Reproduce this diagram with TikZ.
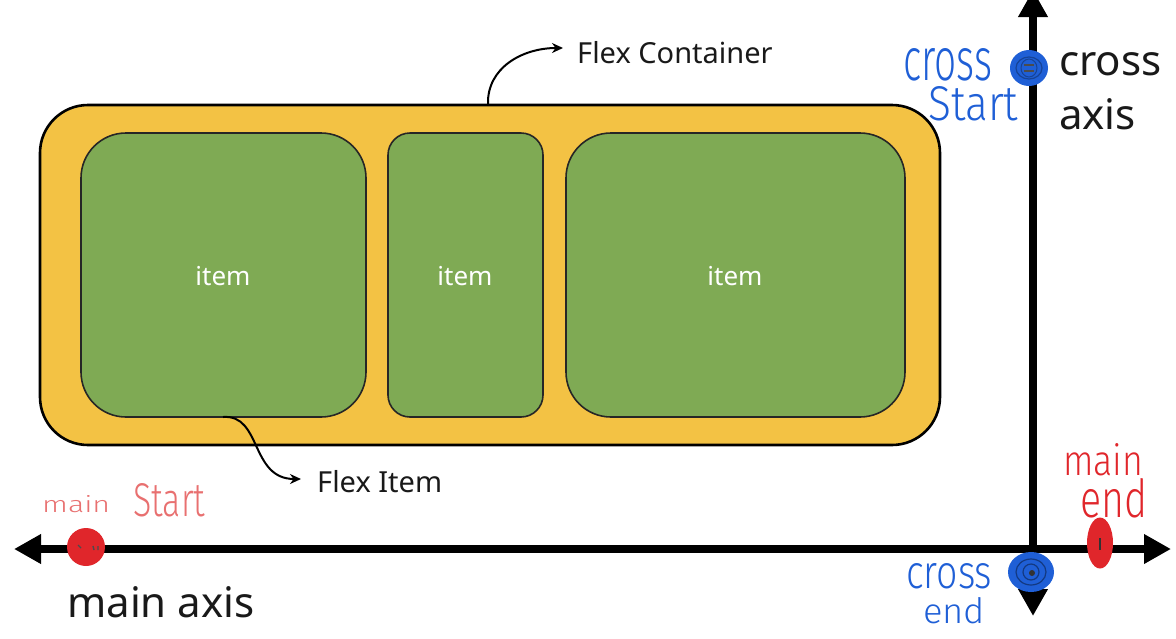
\documentclass[tikz,border=0pt]{standalone}
\usepackage{graphicx}
\usepackage{fontspec}
\setmainfont{Noto Sans}
\newfontfamily\handfont{Fira Sans Light}
\usetikzlibrary{arrows.meta,shapes.geometric}
\definecolor{boxyellow}{HTML}{F3C244}
\definecolor{itemgreen}{HTML}{7FAA54}
\definecolor{penblue}{HTML}{1F5FD6}
\definecolor{penred}{HTML}{E0262B}
\definecolor{penpink}{HTML}{E87070}
% a pen-written word stretched to a given width and height
\newcommand{\penword}[3]{\resizebox{#1}{#2}{\handfont\fontsize{40}{40}\selectfont #3}}
\tikzset{
  container/.style={draw=black, line width=2.6pt, fill=boxyellow, rounded corners=48pt},
  flexitem/.style={draw=black!85, line width=1.6pt, fill=itemgreen, rounded corners=#1},
  itemlabel/.style={text=white, font=\fontsize{26}{30}\selectfont},
  callout/.style={font=\fontsize{29}{32}\selectfont, text=black!90, inner sep=0pt, anchor=base west},
  axislabel/.style={font=\fontsize{42}{52}\selectfont, text=black!90, inner sep=0pt, anchor=base west},
  axisline/.style={line width=8pt, {Triangle[length=27pt,width=28pt]}-{Triangle[length=27pt,width=28pt]}},
  pointer/.style={line width=2pt, -{Stealth[length=11pt,width=10pt]}},
  handnote/.style={inner sep=0pt, anchor=north west},
}
\begin{document}
\begin{tikzpicture}[x=1pt,y=-1pt]
\useasboundingbox (0,0) rectangle (1176,638);

% container and its three items
\path[container] (40,105) rectangle (940,445);
\node[coordinate] (cont) at (488,104) {};
\path[flexitem=45pt] (81,133) rectangle (366,417);
\path[flexitem=22pt] (388,133) rectangle (543,417);
\path[flexitem=45pt] (566,133) rectangle (905,417);
\node[itemlabel] (itema) at (223,276) {item};
\node[itemlabel] (itemb) at (465,276) {item};
\node[itemlabel] (itemc) at (735,276) {item};
\node[coordinate] (itemfoot) at (223,417) {};

% callouts
\node[callout] (fctext) at (577,63) {Flex Container};
\node[callout] (fitext) at (317,492) {Flex Item};
\node[coordinate] (fctip) at (563,48) {};
\node[coordinate] (fitip) at (301,479) {};
\draw[pointer] (cont) .. controls (487,68) and (522,48) .. (fctip);
\draw[pointer] (itemfoot) .. controls (262,414) and (250,479) .. (fitip);

% axes
\node[coordinate] (mleft) at (14,549) {};
\node[coordinate] (mright) at (1171,549) {};
\node[coordinate] (ctop) at (1033,-10) {};
\node[coordinate] (cbottom) at (1033,616) {};
\draw[axisline] (mleft) -- (mright);
\draw[axisline] (ctop) -- (cbottom);
\node[axislabel] (crossword) at (1059,75) {cross};
\node[axislabel] (axisword) at (1059,129) {axis};
\node[axislabel] (mainlbl) at (67,617) {main axis};

% hand-drawn markers
\node[ellipse, fill=penblue, minimum width=38pt, minimum height=36pt, inner sep=0pt] (cstart) at (1029,68) {};
\draw[black!70, line width=1.2pt] (cstart.center) ++(-5,-3) -- ++(10,0) ++(-10,6) -- ++(10,0);
\draw[penblue!70!black, line width=1.2pt] (cstart) circle[x radius=13pt, y radius=11pt];
\draw[penblue!70!black, line width=1pt] (cstart) circle[x radius=8pt, y radius=9pt];
\node[ellipse, fill=penblue, minimum width=46pt, minimum height=40pt, inner sep=0pt] (cend) at (1031,572) {};
\draw[penblue!60!black, line width=1.2pt] (cend) circle[x radius=15pt, y radius=13pt] (cend) circle[radius=8pt];
\fill[black!80] (cend.center) ++(1,1) circle[radius=3pt];
\node[ellipse, fill=penred, minimum width=26pt, minimum height=51pt, inner sep=0pt] (mend) at (1100,543) {};
\draw[black!80, line width=1.6pt] (mend.center) ++(0,-5) -- ++(0,12);
\node[circle, fill=penred, minimum size=38pt, inner sep=0pt] (mstart) at (86,547) {};
\draw[black!70, line width=1.4pt] (mstart.center) ++(-8,-2) -- ++(3,3) ++(12,-2) -- ++(1,4) ++(4,-4) -- ++(0,4);

% hand-written notes
\node[handnote, text=penblue] (cstarta) at (903,48) {\penword{89pt}{32pt}{cross}};
\node[handnote, text=penblue] (cstartb) at (928,86) {\penword{90pt}{34pt}{Start}};
\node[handnote, text=penblue] (cenda) at (906,563) {\penword{86pt}{25pt}{cross}};
\node[handnote, text=penblue] (cendb) at (923,597) {\penword{62pt}{26pt}{end}};
\node[handnote, text=penred] (menda) at (1063,443) {\penword{80pt}{32pt}{main}};
\node[handnote, text=penred] (mendb) at (1080,478) {\penword{67pt}{39pt}{end}};
\node[handnote, text=penpink] (mstarta) at (42,495) {\penword{68pt}{17pt}{main}};
\node[handnote, text=penpink] (mstartb) at (133,483) {\penword{72pt}{33pt}{Start}};
\end{tikzpicture}
\end{document}
